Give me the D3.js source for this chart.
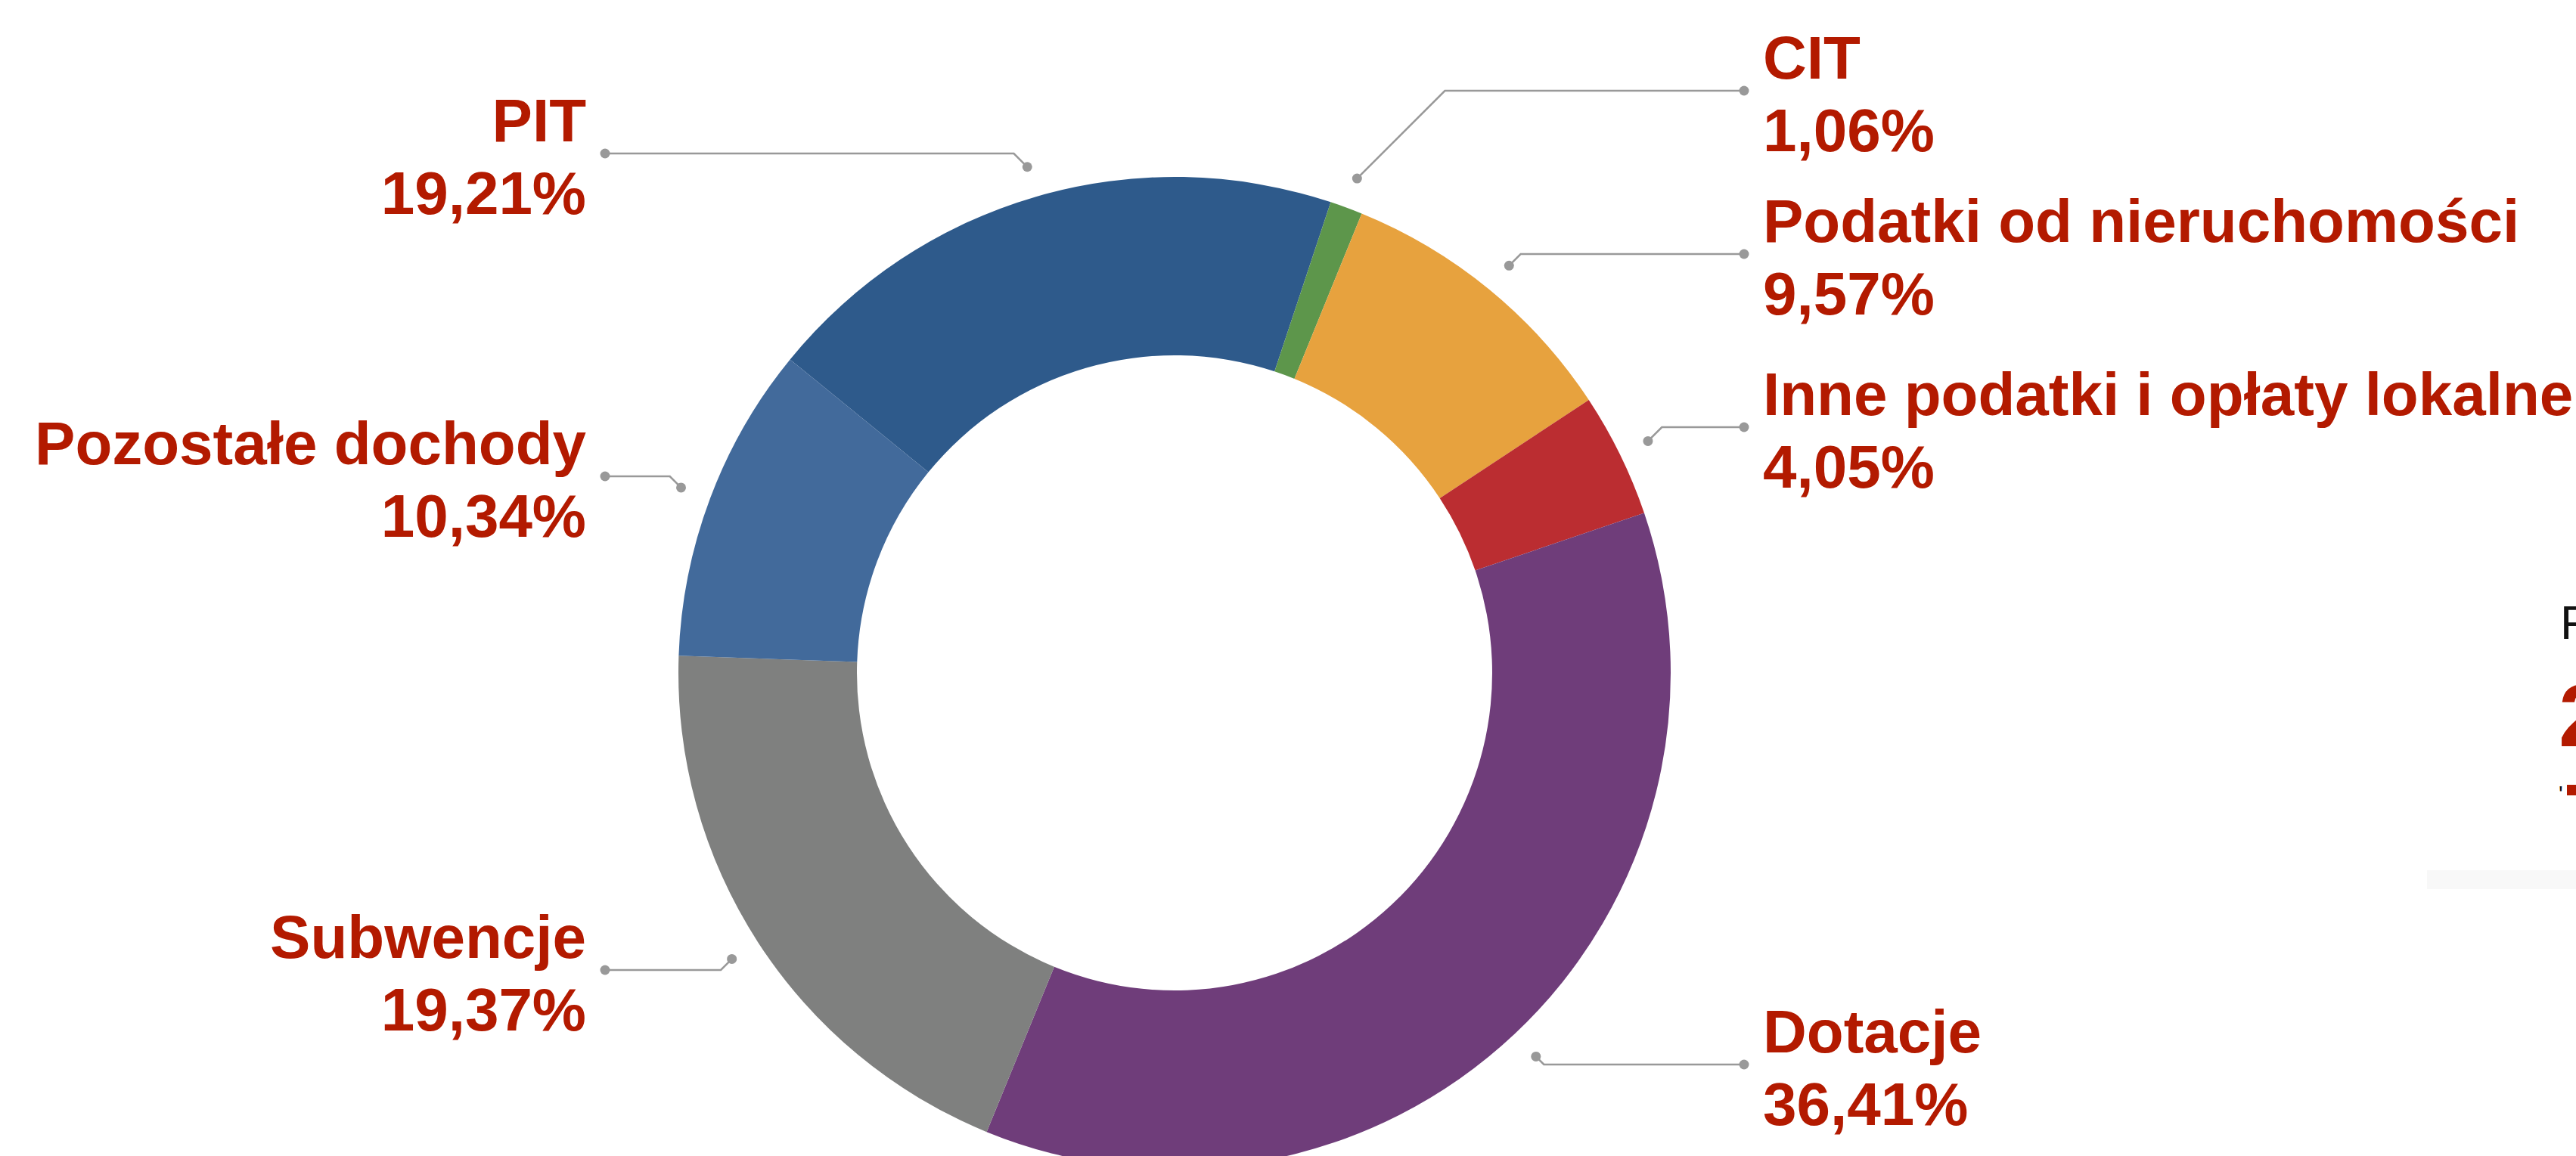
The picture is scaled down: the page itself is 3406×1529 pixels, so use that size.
<!DOCTYPE html>
<html>
<head>
<meta charset="utf-8">
<script src="https://cdn.jsdelivr.net/npm/d3@7"></script>
<style>
  body { margin: 0; background: #fff; }
  svg { display: block; }
  .lbl { font-family: "Liberation Sans", Arial, Helvetica, sans-serif; font-weight: bold; fill: #b31a00; }
</style>
</head>
<body>
<div id="donut"></div>
<script>
// dochody - struktura (%)
const categories = ["PIT", "CIT", "Podatki od nieruchomości", "Inne podatki i opłaty lokalne",
                    "Dotacje", "Subwencje", "Pozostałe dochody"];
const shares = [19.21, 1.06, 9.57, 4.05, 36.41, 19.37, 10.34];
const sliceColors = ["#2e5a8b", "#5d964b", "#e7a23e", "#bb2d31", "#6f3d7a", "#7f807f", "#426a9b"];

// layout
const svgWidth = 3406, svgHeight = 1529;
const cx = 1553, cy = 890;
const outerR = 656, innerR = 420, dotR = 697;
const firstAngle = -50.8;                            // degrees, where PIT starts
const labelY = [203, 120, 336, 565, 1408, 1283, 630]; // y of each leader line
const textDotOffset = 753, textGap = 25;

const pl = d3.formatLocale({decimal: ",", thousands: " ", grouping: [3], currency: ["", " zł"]});
const fmt = pl.format(".2f");

function drawDonut(){

    const svg = d3.select("#donut")
        .append("svg")
        .attr("width", svgWidth)
        .attr("height", svgHeight);

    const g = svg.append("g")
        .attr("transform", "translate(" + cx + "," + cy + ")");

    const start = firstAngle * Math.PI / 180;
    const pie = d3.pie()
        .sort(null)
        .startAngle(start)
        .endAngle(start + 2 * Math.PI);

    const arcs = pie(shares);

    const arc = d3.arc()
        .innerRadius(innerR)
        .outerRadius(outerR);

    const dotArc = d3.arc()
        .innerRadius(dotR)
        .outerRadius(dotR);

    g.selectAll("path.slice")
        .data(arcs)
        .enter()
        .append("path")
        .attr("class", "slice")
        .attr("d", arc)
        .style("fill", function(d, i) {return sliceColors[i];});

    // leader lines
    const lines = arcs.map(function(d, i){
        const p = dotArc.centroid(d);
        const side = p[0] < 0 ? -1 : 1;
        const ly = labelY[i] - cy;
        const ex = p[0] + side * Math.abs(ly - p[1]);
        const tx = side * textDotOffset;
        return {i: i, side: side, p: p, elbow: [ex, ly], t: [tx, ly]};
    });

    g.selectAll("path.leader")
        .data(lines)
        .enter()
        .append("path")
        .attr("class", "leader")
        .attr("d", function(d) {return d3.line()([d.p, d.elbow, d.t]);})
        .style("fill", "none")
        .style("stroke", "#999")
        .style("stroke-width", 2.5);

    g.selectAll("circle.dot")
        .data(lines.flatMap(function(d) {return [d.p, d.t];}))
        .enter()
        .append("circle")
        .attr("class", "dot")
        .attr("cx", function(d) {return d[0];})
        .attr("cy", function(d) {return d[1];})
        .attr("r", 6.5)
        .style("fill", "#999");

    // labels
    const lbl = g.selectAll("text.lbl")
        .data(lines)
        .enter()
        .append("text")
        .attr("class", "lbl")
        .attr("font-size", 80)
        .attr("text-anchor", function(d) {return d.side < 0 ? "end" : "start";});

    lbl.append("tspan")
        .attr("x", function(d) {return d.t[0] + d.side * textGap;})
        .attr("y", function(d) {return d.t[1] - 16;})
        .text(function(d) {return categories[d.i];});

    lbl.append("tspan")
        .attr("x", function(d) {return d.t[0] + d.side * textGap;})
        .attr("y", function(d) {return d.t[1] + 80;})
        .text(function(d) {return fmt(shares[d.i]) + "%";});

    // cut off fragment of the next panel on the right
    svg.append("text")
        .attr("x", 3385).attr("y", 845)
        .style("font-family", "'Liberation Sans', Arial, sans-serif")
        .style("font-size", "63px")
        .style("fill", "#111")
        .text("P");

    svg.append("text")
        .attr("x", 3383).attr("y", 987)
        .style("font-family", "'Liberation Sans', Arial, sans-serif")
        .style("font-weight", "bold")
        .style("font-size", "117px")
        .style("fill", "#b31a00")
        .text("2");

    svg.append("text")
        .attr("x", 3383).attr("y", 1060)
        .style("font-family", "'Liberation Sans', Arial, sans-serif")
        .style("font-size", "30px")
        .style("fill", "#111")
        .text("'");

    svg.append("rect")
        .attr("x", 3394).attr("y", 1038)
        .attr("width", 12).attr("height", 14)
        .style("fill", "#b31a00");

    svg.append("rect")
        .attr("x", 3209).attr("y", 1151)
        .attr("width", 197).attr("height", 25)
        .style("fill", "#f8f8f8");
}

drawDonut();
</script>
</body>
</html>
